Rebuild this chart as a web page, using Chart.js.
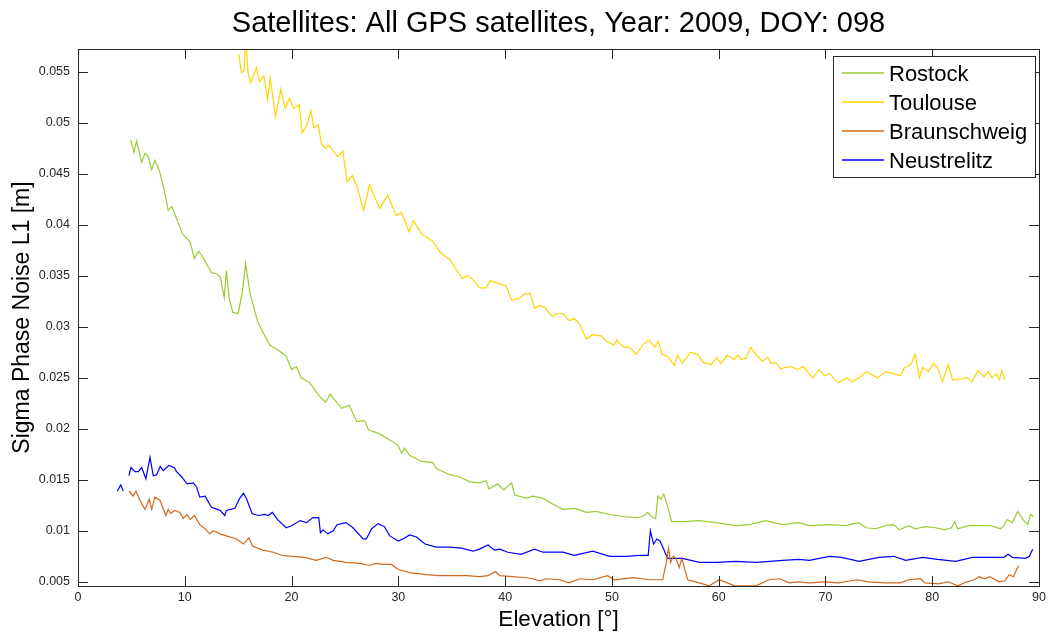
<!DOCTYPE html>
<html lang="en">
<head>
    <meta charset="UTF-8">
    <title>Sigma Phase Noise L1</title>
    <script src="https://cdn.jsdelivr.net/npm/chart.js"></script>
    <style>
        html, body { margin: 0; padding: 0; background: #ffffff; }
        #noiseChart { display: block; }
    </style>
</head>
<body>
    <canvas id="noiseChart" width="1050" height="633"></canvas>

    <script>
        // Elevation [deg] and sigma [m] per station
        const rostockElev = [4.93, 5.24, 5.49, 5.96, 6.27, 6.58, 6.9, 7.2, 7.6, 8.05, 8.45, 8.77, 9.23, 9.79, 10.5, 10.9, 11.3, 11.7, 12.5, 12.97, 13.35, 13.55, 13.7, 13.9, 14.15, 14.5, 15.0, 15.4, 15.7, 16.1, 16.25, 16.56, 16.87, 17.5, 17.96, 18.9, 19.5, 20.0, 20.45, 20.9, 21.7, 22.6, 23.2, 23.6, 24.7, 25.4, 26.1, 26.85, 27.2, 28.25, 29.2, 29.96, 30.3, 30.6, 31.05, 32.15, 33.2, 33.55, 34.8, 35.7, 36.7, 37.6, 38.2, 38.5, 39.3, 39.85, 40.6, 40.9, 42.0, 42.6, 43.5, 44.5, 45.4, 46.5, 47.6, 48.5, 49.8, 51.0, 52.3, 52.9, 53.35, 53.7, 54.1, 54.3, 54.6, 54.85, 55.1, 55.6, 56.6, 58.2, 59.75, 61.6, 62.9, 64.4, 66.0, 67.5, 68.5, 70.35, 71.9, 73.1, 73.8, 74.7, 75.65, 76.4, 76.9, 77.8, 78.4, 79.35, 80.3, 81.2, 81.8, 82.1, 82.4, 83.4, 84.4, 85.5, 86.4, 86.7, 87.0, 87.5, 88.0, 88.5, 88.95, 89.2, 89.5];
        const rostockSigma = [0.0483, 0.0471, 0.0482, 0.0461, 0.0470, 0.0467, 0.0454, 0.0463, 0.0454, 0.0435, 0.0414, 0.0418, 0.0406, 0.0391, 0.0383, 0.0367, 0.0374, 0.0368, 0.0353, 0.0352, 0.0348, 0.0336, 0.0329, 0.0355, 0.0328, 0.0314, 0.0313, 0.0335, 0.0362, 0.0333, 0.0327, 0.0315, 0.0304, 0.0291, 0.0282, 0.0276, 0.0271, 0.0258, 0.0261, 0.0250, 0.0245, 0.0232, 0.0226, 0.0234, 0.0220, 0.0223, 0.0207, 0.0208, 0.0199, 0.0195, 0.0189, 0.0184, 0.0176, 0.0181, 0.0174, 0.0168, 0.0167, 0.0161, 0.0155, 0.0153, 0.0148, 0.0147, 0.0149, 0.0141, 0.0146, 0.0140, 0.0147, 0.0135, 0.0132, 0.0134, 0.0132, 0.0126, 0.0121, 0.0122, 0.0118, 0.0119, 0.0116, 0.0114, 0.0113, 0.0114, 0.0118, 0.0114, 0.0112, 0.0134, 0.0131, 0.0136, 0.0128, 0.0109, 0.0109, 0.0110, 0.0108, 0.0105, 0.0106, 0.0110, 0.0106, 0.0108, 0.0105, 0.0106, 0.0105, 0.0108, 0.0103, 0.0102, 0.0105, 0.0106, 0.0101, 0.0105, 0.0102, 0.0104, 0.0103, 0.0101, 0.0103, 0.0109, 0.0102, 0.0105, 0.0105, 0.0105, 0.0102, 0.0105, 0.0111, 0.0108, 0.0119, 0.0111, 0.0106, 0.0116, 0.0114];

        const toulouseElev = [15.06, 15.3, 15.56, 15.7, 15.93, 16.18, 16.7, 17.0, 17.4, 17.75, 18.0, 18.5, 19.0, 19.4, 19.8, 20.2, 20.7, 21.0, 21.45, 21.8, 22.1, 22.5, 22.8, 23.2, 23.5, 24.3, 24.8, 25.2, 25.7, 26.2, 26.75, 27.3, 28.25, 29.0, 29.8, 30.3, 31.0, 31.4, 32.15, 33.2, 33.9, 34.8, 35.3, 36.0, 36.5, 37.0, 37.6, 38.2, 38.6, 39.5, 40.1, 40.6, 41.35, 41.8, 42.35, 42.75, 43.2, 43.7, 44.4, 44.9, 45.4, 46.0, 46.5, 47.0, 47.6, 48.15, 49.0, 49.45, 50.2, 50.45, 51.1, 51.6, 52.3, 52.95, 53.5, 54.0, 54.35, 54.7, 55.2, 55.85, 56.15, 56.6, 57.35, 58.0, 58.55, 59.3, 59.8, 60.2, 60.8, 61.45, 61.8, 62.1, 62.55, 63.0, 63.4, 64.1, 64.6, 64.9, 65.35, 65.8, 66.75, 67.4, 67.9, 68.8, 69.4, 69.9, 70.4, 71.2, 72.05, 72.5, 73.3, 73.8, 74.9, 75.65, 76.4, 77.05, 77.4, 78.0, 78.4, 78.8, 79.1, 79.65, 80.1, 80.5, 80.95, 81.5, 81.9, 82.7, 83.3, 83.7, 84.3, 84.85, 85.25, 85.6, 86.0, 86.3, 86.5, 86.8];
        const toulouseSigma = [0.0567, 0.0549, 0.0551, 0.0585, 0.0549, 0.0539, 0.0554, 0.0540, 0.0546, 0.0523, 0.0544, 0.0506, 0.0533, 0.0514, 0.0524, 0.0514, 0.0518, 0.0490, 0.0498, 0.0512, 0.0495, 0.0498, 0.0479, 0.0475, 0.0478, 0.0467, 0.0472, 0.0442, 0.0448, 0.0435, 0.0414, 0.0439, 0.0416, 0.0429, 0.0409, 0.0412, 0.0393, 0.0404, 0.0391, 0.0384, 0.0373, 0.0366, 0.0358, 0.0347, 0.0350, 0.0346, 0.0338, 0.0338, 0.0345, 0.0342, 0.0340, 0.0326, 0.0328, 0.0332, 0.0333, 0.0318, 0.0321, 0.0319, 0.0310, 0.0313, 0.0313, 0.0306, 0.0308, 0.0302, 0.0288, 0.0292, 0.0291, 0.0286, 0.0282, 0.0287, 0.0280, 0.0280, 0.0273, 0.0283, 0.0287, 0.0280, 0.0286, 0.0273, 0.0271, 0.0262, 0.0272, 0.0264, 0.0275, 0.0273, 0.0265, 0.0263, 0.0270, 0.0264, 0.0272, 0.0268, 0.0272, 0.0268, 0.0269, 0.0280, 0.0274, 0.0266, 0.0270, 0.0264, 0.0265, 0.0259, 0.0261, 0.0258, 0.0261, 0.0250, 0.0258, 0.0252, 0.0254, 0.0245, 0.0250, 0.0246, 0.0251, 0.0256, 0.0250, 0.0256, 0.0254, 0.0252, 0.0260, 0.0263, 0.0273, 0.0250, 0.0260, 0.0256, 0.0264, 0.0260, 0.0246, 0.0263, 0.0248, 0.0249, 0.0250, 0.0246, 0.0257, 0.0251, 0.0256, 0.0250, 0.0254, 0.0248, 0.0257, 0.0248];

        const braunschweigElev = [4.77, 5.17, 5.43, 5.8, 6.27, 6.67, 6.9, 7.2, 7.67, 8.23, 8.45, 8.67, 9.07, 9.54, 9.85, 10.2, 10.5, 10.9, 11.4, 11.9, 12.35, 12.65, 13.3, 13.9, 14.85, 15.5, 16.0, 16.35, 17.3, 18.3, 19.05, 20.1, 21.2, 22.3, 23.25, 23.9, 25.1, 26.4, 27.3, 27.9, 28.55, 29.35, 30.0, 31.05, 32.6, 33.9, 35.1, 36.4, 37.6, 38.4, 39.1, 39.5, 40.7, 42.0, 42.6, 43.2, 43.85, 45.1, 46.0, 47.0, 48.2, 49.6, 50.2, 52.0, 53.5, 54.75, 55.1, 55.3, 55.5, 55.75, 56.0, 56.3, 56.55, 56.8, 57.1, 58.2, 59.1, 60.06, 61.5, 63.5, 64.7, 65.7, 66.6, 67.5, 68.5, 70.0, 71.2, 73.0, 74.0, 75.6, 77.0, 77.8, 78.9, 79.3, 80.6, 81.5, 82.4, 83.0, 83.9, 84.4, 84.9, 85.4, 86.25, 86.8, 87.2, 87.6, 87.8, 88.1];
        const braunschweigSigma = [0.0139, 0.0134, 0.0139, 0.0130, 0.0121, 0.0131, 0.0121, 0.0133, 0.0130, 0.0115, 0.0121, 0.0117, 0.0120, 0.0118, 0.0112, 0.0116, 0.0111, 0.0115, 0.0106, 0.0102, 0.0097, 0.0100, 0.0097, 0.0095, 0.0092, 0.0087, 0.0093, 0.0085, 0.0081, 0.0079, 0.0076, 0.0075, 0.0074, 0.0071, 0.0074, 0.0071, 0.0069, 0.0068, 0.0066, 0.0068, 0.0067, 0.0067, 0.0062, 0.0059, 0.0057, 0.0056, 0.0056, 0.0056, 0.0055, 0.0056, 0.0060, 0.0056, 0.0055, 0.0054, 0.0053, 0.0051, 0.0053, 0.0052, 0.0049, 0.0053, 0.0052, 0.0056, 0.0052, 0.0054, 0.0052, 0.0052, 0.0069, 0.0083, 0.0069, 0.0075, 0.0073, 0.0064, 0.0073, 0.0063, 0.0052, 0.0049, 0.0046, 0.0052, 0.0046, 0.0046, 0.0052, 0.0053, 0.0049, 0.0050, 0.0049, 0.0050, 0.0049, 0.0052, 0.0050, 0.0049, 0.0049, 0.0052, 0.0053, 0.0049, 0.0048, 0.0050, 0.0046, 0.0049, 0.0052, 0.0055, 0.0053, 0.0055, 0.0050, 0.0051, 0.0057, 0.0055, 0.0060, 0.0066];

        // null breaks the line (short track at the start)
        const neustrelitzElev = [3.68, 4.0, 4.24, 4.5, 4.77, 4.96, 5.33, 5.65, 5.96, 6.36, 6.74, 7.05, 7.36, 7.7, 8.0, 8.5, 9.0, 9.23, 9.7, 10.2, 10.8, 11.1, 11.4, 11.9, 12.5, 13.3, 13.75, 13.9, 14.7, 15.1, 15.5, 15.8, 16.3, 16.9, 17.5, 17.8, 18.2, 18.7, 19.5, 20.0, 20.8, 21.4, 22.0, 22.55, 22.7, 22.95, 23.4, 23.9, 24.25, 25.1, 25.75, 26.7, 27.0, 27.5, 28.1, 28.7, 29.2, 30.0, 30.6, 31.05, 31.7, 32.5, 33.55, 34.8, 35.9, 37.0, 37.6, 38.4, 39.0, 39.5, 40.25, 41.5, 42.75, 43.55, 44.15, 45.4, 46.5, 48.2, 49.8, 51.3, 52.6, 53.4, 53.6, 53.9, 54.2, 54.5, 54.85, 55.2, 56.6, 58.2, 59.75, 61.6, 63.5, 66.0, 67.5, 68.5, 70.35, 71.5, 73.15, 75.0, 76.4, 77.5, 79.1, 80.5, 82.2, 83.75, 85.4, 86.7, 87.1, 87.5, 88.75, 89.1, 89.4];
        const neustrelitzSigma = [0.0139, 0.0145, 0.0139, null, 0.0154, 0.0162, 0.0158, 0.0158, 0.0162, 0.0151, 0.0172, 0.0154, 0.0155, 0.0163, 0.0159, 0.0164, 0.0162, 0.0158, 0.0153, 0.0146, 0.0147, 0.0143, 0.0133, 0.0134, 0.0123, 0.0120, 0.0115, 0.0120, 0.0122, 0.0131, 0.0137, 0.0131, 0.0117, 0.0115, 0.0116, 0.0115, 0.0118, 0.0111, 0.0103, 0.0105, 0.0110, 0.0108, 0.0113, 0.0113, 0.0098, 0.0101, 0.0097, 0.0100, 0.0106, 0.0108, 0.0103, 0.0092, 0.0092, 0.0102, 0.0107, 0.0104, 0.0095, 0.0090, 0.0093, 0.0096, 0.0094, 0.0087, 0.0084, 0.0084, 0.0083, 0.0080, 0.0082, 0.0086, 0.0081, 0.0082, 0.0079, 0.0077, 0.0082, 0.0079, 0.0079, 0.0079, 0.0076, 0.0080, 0.0075, 0.0075, 0.0076, 0.0076, 0.0100, 0.0087, 0.0092, 0.0090, 0.0082, 0.0073, 0.0073, 0.0069, 0.0069, 0.0070, 0.0069, 0.0071, 0.0072, 0.0071, 0.0075, 0.0074, 0.0070, 0.0074, 0.0075, 0.0071, 0.0074, 0.0072, 0.0070, 0.0074, 0.0074, 0.0074, 0.0077, 0.0074, 0.0073, 0.0075, 0.0082];

        const elevTicks = [0, 10, 20, 30, 40, 50, 60, 70, 80, 90];

        const FONT = "'Liberation Sans', Arial, Helvetica, sans-serif";
        const INK = '#262626';

        function toPoints(elev, sigma) {
            return elev.map((e, i) => ({ x: e, y: sigma[i] }));
        }

        function station(label, color, elev, sigma) {
            return {
                label: label,
                data: toPoints(elev, sigma),
                borderColor: color,
                backgroundColor: color,
                borderWidth: 1.2,
                pointRadius: 0,
                tension: 0,
                spanGaps: false
            };
        }

        // box around the axes with ticks pointing inwards on all four sides
        const frameAndLegend = {
            id: 'frameAndLegend',
            afterDraw(chart) {
                const c = chart.ctx;
                const area = chart.chartArea;
                const xs = chart.scales.x, ys = chart.scales.y;
                const tick = 10;

                c.save();
                c.strokeStyle = INK;
                c.lineWidth = 1;
                c.strokeRect(Math.round(area.left) + 0.5, Math.round(area.top) + 0.5,
                    Math.round(area.right - area.left), Math.round(area.bottom - area.top));

                c.beginPath();
                xs.ticks.forEach(t => {
                    const px = Math.round(xs.getPixelForValue(t.value)) + 0.5;
                    c.moveTo(px, area.bottom); c.lineTo(px, area.bottom - tick);
                    c.moveTo(px, area.top); c.lineTo(px, area.top + tick);
                });
                ys.ticks.forEach(t => {
                    const py = Math.round(ys.getPixelForValue(t.value)) + 0.5;
                    c.moveTo(area.left, py); c.lineTo(area.left + tick, py);
                    c.moveTo(area.right, py); c.lineTo(area.right - tick, py);
                });
                c.stroke();

                // legend box in the upper right corner
                const boxL = 833.5, boxT = 56.5, boxW = 202, boxH = 121;
                c.fillStyle = '#ffffff';
                c.fillRect(boxL, boxT, boxW, boxH);
                c.strokeStyle = INK;
                c.strokeRect(boxL, boxT, boxW, boxH);

                c.font = '22px ' + FONT;
                c.textBaseline = 'middle';
                c.textAlign = 'left';
                chart.data.datasets.forEach((ds, i) => {
                    const cy = 73 + i * 29;
                    c.strokeStyle = ds.borderColor;
                    c.lineWidth = 1.6;
                    c.beginPath();
                    c.moveTo(842, cy); c.lineTo(884, cy);
                    c.stroke();
                    c.fillStyle = '#000000';
                    c.fillText(ds.label, 889, cy + 1.5);
                });
                c.restore();
            }
        };

        const ctx = document.getElementById('noiseChart').getContext('2d');

        const chart = new Chart(ctx, {
            type: 'line',
            data: {
                datasets: [
                    station('Rostock', 'rgb(154, 205, 50)', rostockElev, rostockSigma),
                    station('Toulouse', 'rgb(255, 212, 0)', toulouseElev, toulouseSigma),
                    station('Braunschweig', 'rgb(210, 105, 30)', braunschweigElev, braunschweigSigma),
                    station('Neustrelitz', 'rgb(0, 0, 255)', neustrelitzElev, neustrelitzSigma)
                ]
            },
            options: {
                responsive: false,
                animation: false,
                devicePixelRatio: 1,
                layout: {
                    padding: { top: 0, left: 0, right: 9, bottom: 0 }
                },
                plugins: {
                    legend: { display: false },
                    tooltip: { enabled: false },
                    title: {
                        display: true,
                        fullSize: false,
                        text: 'Satellites: All GPS satellites, Year: 2009, DOY: 098',
                        color: '#000000',
                        font: { family: FONT, size: 29, weight: 'normal' },
                        padding: { top: 6.5, bottom: 7.7 }
                    }
                },
                scales: {
                    x: {
                        type: 'linear',
                        min: 0,
                        max: 90,
                        afterFit: scale => { scale.height = 47; },
                        afterBuildTicks: scale => {
                            scale.ticks = elevTicks.map(v => ({ value: v }));
                        },
                        grid: { display: false, drawTicks: false },
                        border: { display: false },
                        ticks: {
                            color: INK,
                            padding: 4,
                            maxRotation: 0,
                            font: { family: FONT, size: 12.5 }
                        },
                        title: {
                            display: true,
                            text: 'Elevation [°]',
                            color: '#000000',
                            font: { family: FONT, size: 22.5 },
                            padding: { top: 0, bottom: 0 }
                        }
                    },
                    y: {
                        type: 'linear',
                        min: 0.004589,
                        max: 0.057223,
                        afterFit: scale => { scale.width = 78; },
                        grid: { display: false, drawTicks: false },
                        border: { display: false },
                        ticks: {
                            stepSize: 0.005,
                            includeBounds: false,
                            color: INK,
                            padding: 8,
                            font: { family: FONT, size: 12.5 },
                            callback: v => String(+v.toFixed(4))
                        },
                        title: {
                            display: true,
                            text: 'Sigma Phase Noise L1 [m]',
                            color: '#000000',
                            font: { family: FONT, size: 23 },
                            padding: { top: 9, bottom: 0 }
                        }
                    }
                }
            },
            plugins: [frameAndLegend]
        });
    </script>
</body>
</html>
